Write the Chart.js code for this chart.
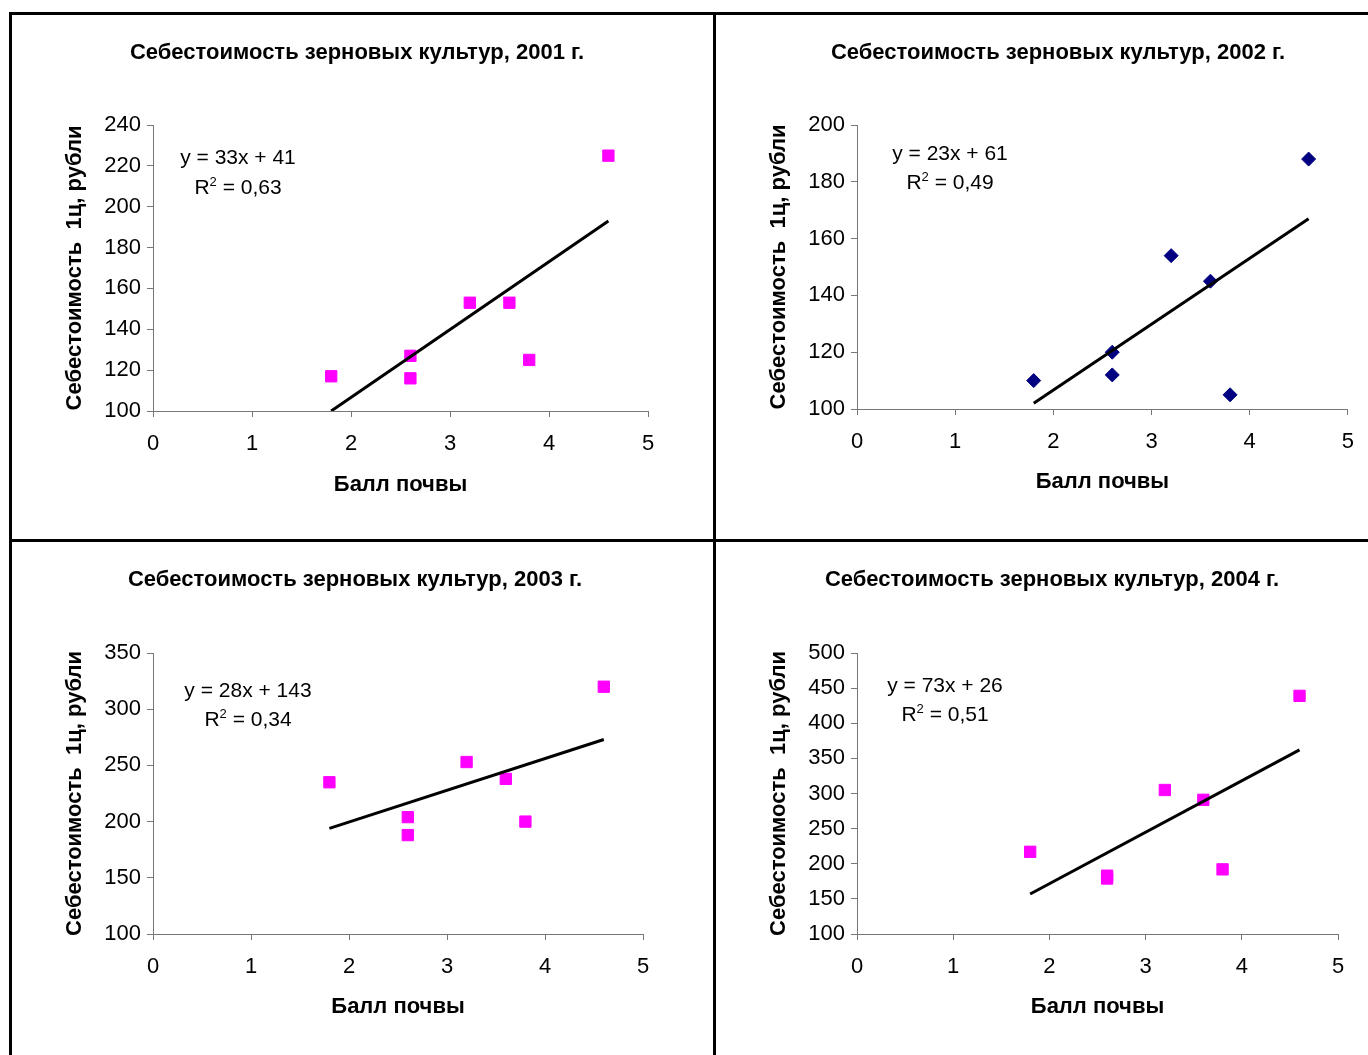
<!DOCTYPE html>
<html lang="ru">
<head>
<meta charset="UTF-8">
<title>Себестоимость зерновых культур</title>
<script src="https://cdn.jsdelivr.net/npm/chart.js"></script>
<style>
  html, body { margin: 0; padding: 0; background: #fff; overflow: hidden; }
  body { width: 1368px; height: 1055px; position: relative; font-family: 'Liberation Sans', Arial, sans-serif; }
  .frame { position: absolute; left: 9px; top: 12px; width: 1420px; height: 1100px; border: 3px solid #000; }
  .vline { position: absolute; left: 713px; top: 12px; width: 3px; height: 1100px; background: #000; }
  .hline { position: absolute; left: 9px; top: 539px; width: 1420px; height: 3px; background: #000; }
  canvas { position: absolute; }
  .eq { position: absolute; width: 220px; margin-left: -110px; text-align: center; font-size: 21px; color: #000; }
  .eq sup { font-size: 13px; line-height: 0; vertical-align: 8px; }
</style>
</head>
<body>
  <div class="frame"></div>
  <div class="vline"></div>
  <div class="hline"></div>

  <script>
    // soil score of each farm (same farms every year)
    const soilScore = [1.8, 2.6, 2.6, 3.2, 3.6, 3.8, 4.6];

    // cost of 1 centner, roubles
    const cost2001 = [117, 127, 116, 153, 153, 125, 225];
    const cost2002 = [110, 120, 112, 154, 145, 105, 188];
    const cost2003 = [235, 204, 188, 253, 238, 200, 320];
    const cost2004 = [217, 183, 179, 305, 291, 192, 439];

    // linear trend, ends of the drawn line
    const trendX = [1.8, 4.6];
    const trend2001 = [100, 193];
    const trend2002 = [102, 167];
    const trend2003 = [194, 273];
    const trend2004 = [157, 362];

    const years = ['2001', '2002', '2003', '2004'];
    const equations = ['y = 33x + 41', 'y = 23x + 61', 'y = 28x + 143', 'y = 73x + 26'];
    const rSquared = ['0,63', '0,49', '0,34', '0,51'];

    const yMin = [100, 100, 100, 100];
    const yMax = [240, 200, 350, 500];
    const yStep = [20, 20, 50, 50];
    const xMin = 0, xMax = 5, xStep = 1;

    const chartTitle = 'Себестоимость зерновых культур, ';
    const xTitle = 'Балл почвы';
    const yTitle = 'Себестоимость  1ц, рубли';

    // page layout of the four cells (canvas box, plot rect inside canvas, text centres)
    const panels = [
      { box: {left: 12, top: 15, w: 701, h: 524}, plot: {l: 141, r: 636, t: 110, b: 396},
        titleCx: 345, titleCy: 38, xTitleCy: 470, yTitleCx: 63, eq: {cx: 238, top: 142, lh: 30},
        color: '#FF00FF', marker: 'rect', radius: 8 },
      { box: {left: 716, top: 15, w: 652, h: 524}, plot: {l: 141, r: 632, t: 110, b: 394},
        titleCx: 342, titleCy: 38, xTitleCy: 467, yTitleCx: 63, eq: {cx: 950, top: 138, lh: 29},
        color: '#000080', marker: 'rectRot', radius: 7 },
      { box: {left: 12, top: 542, w: 701, h: 513}, plot: {l: 141, r: 631, t: 111, b: 392},
        titleCx: 343, titleCy: 38, xTitleCy: 465, yTitleCx: 63, eq: {cx: 248, top: 675, lh: 29},
        color: '#FF00FF', marker: 'rect', radius: 8 },
      { box: {left: 716, top: 542, w: 652, h: 513}, plot: {l: 141, r: 622, t: 111, b: 392},
        titleCx: 336, titleCy: 38, xTitleCy: 465, yTitleCx: 63, eq: {cx: 945, top: 670, lh: 29},
        color: '#FF00FF', marker: 'rect', radius: 8 }
    ];

    const costs = [cost2001, cost2002, cost2003, cost2004];
    const trends = [trend2001, trend2002, trend2003, trend2004];

    const TITLE_SIZE = 22, AXIS_TITLE_SIZE = 22, TICK_SIZE = 22;
    Chart.defaults.font.family = "'Liberation Sans', Arial, sans-serif";
    Chart.defaults.color = '#000';

    panels.forEach((p, i) => {
      const canvas = document.createElement('canvas');
      canvas.width = p.box.w;
      canvas.height = p.box.h;
      canvas.style.left = p.box.left + 'px';
      canvas.style.top = p.box.top + 'px';
      document.body.appendChild(canvas);

      const W = p.box.w, H = p.box.h;
      const d = 2 * p.titleCx - W;
      const padL = Math.max(0, d), padR = Math.max(0, -d);
      const lhT = TITLE_SIZE * 1.2, lhA = AXIS_TITLE_SIZE * 1.2;
      const titleTop = p.titleCy - lhT / 2;

      new Chart(canvas, {
        type: 'scatter',
        data: {
          datasets: [
            {
              data: trendX.map((x, k) => ({x: x, y: trends[i][k]})),
              showLine: true, borderColor: '#000', borderWidth: 3,
              pointRadius: 0, yAxisID: 'y'
            },
            {
              data: soilScore.map((x, k) => ({x: x, y: costs[i][k]})),
              pointStyle: p.marker, pointRadius: p.radius,
              backgroundColor: p.color, borderColor: p.color, borderWidth: 1,
              yAxisID: 'y'
            }
          ]
        },
        options: {
          responsive: false,
          animation: false,
          devicePixelRatio: 1,
          layout: { padding: { left: padL, right: padR, top: 0, bottom: 0 } },
          plugins: {
            legend: { display: false },
            tooltip: { enabled: false },
            title: {
              display: true,
              text: chartTitle + years[i] + ' г.',
              font: { size: TITLE_SIZE, weight: 'bold' },
              padding: { top: titleTop, bottom: p.plot.t - titleTop - lhT }
            }
          },
          scales: {
            x: {
              type: 'linear', min: xMin, max: xMax,
              ticks: { stepSize: xStep, padding: 14, font: { size: TICK_SIZE } },
              grid: { drawOnChartArea: false, tickLength: 6, color: '#777' },
              border: { color: '#777' },
              title: {
                display: true, text: xTitle,
                font: { size: AXIS_TITLE_SIZE, weight: 'bold' },
                padding: { top: 0, bottom: (H - p.xTitleCy) - lhA / 2 }
              },
              afterFit: s => { s.height = H - p.plot.b; }
            },
            y: {
              type: 'linear', position: 'left', min: yMin[i], max: yMax[i],
              ticks: { stepSize: yStep[i], padding: 6, font: { size: TICK_SIZE } },
              grid: { drawOnChartArea: false, tickLength: 6, color: '#777' },
              border: { color: '#777' },
              title: {
                display: true, text: yTitle,
                font: { size: AXIS_TITLE_SIZE, weight: 'bold' },
                padding: { top: p.yTitleCx - padL - lhA / 2, bottom: 0 }
              },
              afterFit: s => { s.width = p.plot.l - padL; }
            },
            // empty right-hand box that sets the right margin of the plot
            yr: {
              type: 'linear', position: 'right', display: true,
              ticks: { display: false }, grid: { display: false }, border: { display: false },
              afterFit: s => { s.width = (W - p.plot.r) - padR; }
            }
          }
        }
      });

      const eq = document.createElement('div');
      eq.className = 'eq';
      eq.style.left = p.eq.cx + 'px';
      eq.style.top = p.eq.top + 'px';
      eq.style.lineHeight = p.eq.lh + 'px';
      eq.innerHTML = equations[i] + '<br>R<sup>2</sup> = ' + rSquared[i];
      document.body.appendChild(eq);
    });
  </script>
</body>
</html>
